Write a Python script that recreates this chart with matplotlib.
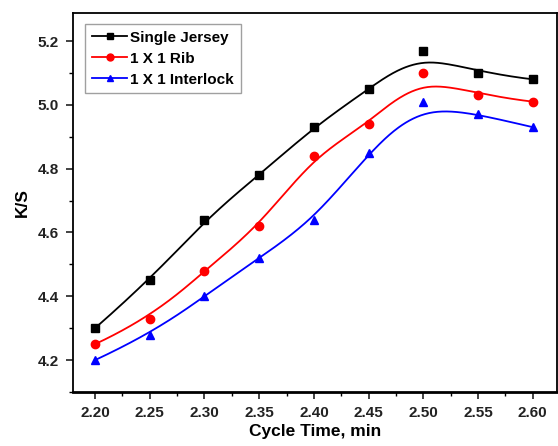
import numpy as np
import matplotlib.pyplot as plt
from matplotlib.ticker import MultipleLocator, FormatStrFormatter

# Data
cycle_time = [2.20, 2.25, 2.30, 2.35, 2.40, 2.45, 2.50, 2.55, 2.60]
single_jersey = [4.30, 4.45, 4.64, 4.78, 4.93, 5.05, 5.17, 5.10, 5.08]
rib = [4.25, 4.33, 4.48, 4.62, 4.84, 4.94, 5.10, 5.03, 5.01]
interlock = [4.20, 4.28, 4.40, 4.52, 4.64, 4.85, 5.01, 4.97, 4.93]


def bspline(xs, ys, n_out=300, k=3):
    # clamped cubic B-spline using the data points as control points
    pts = np.column_stack([xs, ys])
    n = len(pts)
    inner = np.arange(1, n - k)
    knots = np.concatenate([np.zeros(k + 1), inner, np.full(k + 1, n - k)]).astype(float)
    t = np.linspace(0, n - k, n_out)
    t[-1] -= 1e-9
    # Cox-de Boor recursion
    B = np.zeros((n_out, len(knots) - 1))
    for i in range(len(knots) - 1):
        B[:, i] = (knots[i] <= t) & (t < knots[i + 1])
    for d in range(1, k + 1):
        Bn = np.zeros((n_out, len(knots) - 1 - d))
        for i in range(len(knots) - 1 - d):
            left = 0.0
            den1 = knots[i + d] - knots[i]
            if den1 > 0:
                left = (t - knots[i]) / den1 * B[:, i]
            right = 0.0
            den2 = knots[i + d + 1] - knots[i + 1]
            if den2 > 0:
                right = (knots[i + d + 1] - t) / den2 * B[:, i + 1]
            Bn[:, i] = left + right
        B = Bn
    curve = B @ pts
    return curve[:, 0], curve[:, 1]


plt.rcParams['font.family'] = ['Liberation Sans', 'DejaVu Sans']
plt.rcParams['font.weight'] = 'bold'

fig = plt.figure(figsize=(5.58, 4.46), dpi=100)
ax = fig.add_axes([0.131, 0.121, 0.867, 0.850])

series = [
    (single_jersey, "black", "s", "Single Jersey"),
    (rib, "red", "o", "1 X 1 Rib"),
    (interlock, "blue", "^", "1 X 1 Interlock"),
]
for vals, color, marker, label in series:
    sx, sy = bspline(cycle_time, vals)
    ax.plot(sx, sy, color=color, linewidth=1.3)
    ax.plot(cycle_time, vals, linestyle="none", marker=marker, color=color, markersize=6)
    # legend proxy
    ax.plot([], [], color=color, marker=marker, markersize=5, linewidth=1.3, label=label)

ax.set_xlim(2.18, 2.622)
ax.set_ylim(4.10, 5.288)
ax.xaxis.set_major_locator(MultipleLocator(0.05))
ax.xaxis.set_minor_locator(MultipleLocator(0.025))
ax.yaxis.set_major_locator(MultipleLocator(0.2))
ax.yaxis.set_minor_locator(MultipleLocator(0.1))
ax.xaxis.set_major_formatter(FormatStrFormatter("%.2f"))
ax.yaxis.set_major_formatter(FormatStrFormatter("%.1f"))
ax.tick_params(which="major", direction="out", length=5, width=1.2, labelsize=11,
               colors="#222222", pad=5)
ax.tick_params(which="minor", direction="out", length=3, width=1.0)
ax.tick_params(top=False, right=False, which="both")
for side in ["left", "right", "top"]:
    ax.spines[side].set_linewidth(1.3)
ax.spines["bottom"].set_linewidth(2.0)
for lab in ax.get_xticklabels() + ax.get_yticklabels():
    lab.set_fontweight("bold")

ax.set_xlabel("Cycle Time, min", fontsize=12.5, fontweight="bold", labelpad=3)
ax.set_ylabel("K/S", fontsize=12.5, fontweight="bold", labelpad=6)

leg = ax.legend(loc="upper left", bbox_to_anchor=(0.025, 0.971), fontsize=11,
                frameon=True, fancybox=False, edgecolor="#888888",
                handlelength=2.3, handletextpad=0.2, borderpad=0.45, labelspacing=0.45,
                borderaxespad=0.0)
leg.get_frame().set_linewidth(1.0)
for txt in leg.get_texts():
    txt.set_fontweight("bold")

fig.savefig("out.png", dpi=100)
